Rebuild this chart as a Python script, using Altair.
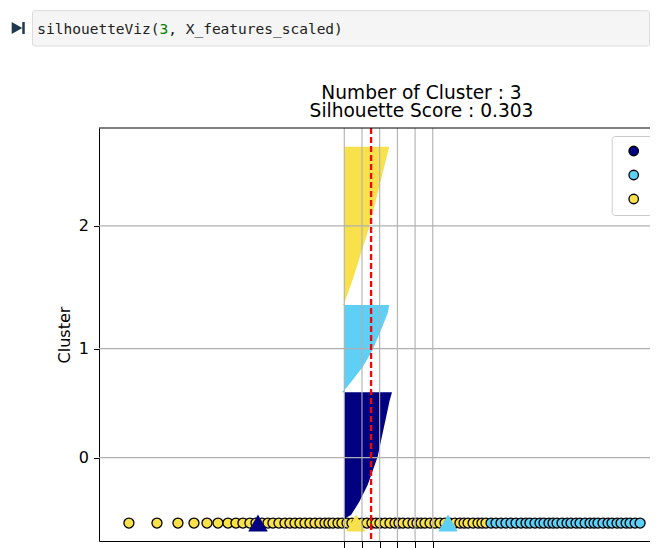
import altair as alt
import pandas as pd

# ---------------- data ----------------
cluster_names = ["0", "1", "2"]
cluster_colors = ["#000080", "#5ecff5", "#f9e14b"]

# silhouette profiles (sorted sample rank -> silhouette coefficient)
c0_idx = [0, 20, 54, 92, 245, 438, 764, 1000, 1207, 1400, 1507]
c0_val = [-0.04, 0.0, 0.01, 0.076, 0.17, 0.264, 0.377, 0.426, 0.47, 0.51, 0.539]
c1_idx = [1507, 1553, 1648, 1802, 1994, 2263, 2417, 2513]
c1_val = [-0.03, 0.02, 0.095, 0.21, 0.32, 0.43, 0.49, 0.508]
c2_idx = [2513, 2533, 2801, 3109, 3416, 3723, 4031, 4338]
c2_val = [-0.02, 0.0, 0.094, 0.189, 0.283, 0.358, 0.433, 0.508]

silhouette_avg = [0.303]
x_ticks = [0, 0.2, 0.4, 0.6, 0.8, 1.0]
y_ticks = [753.5, 2010, 3425.5]
y_tick_labels = ["0", "1", "2"]

# scatter of the scaled features (all drawn on the same axes)
yellow_x = [-2.433, -2.116, -1.879, -1.698, -1.551, -1.427, -1.314, -1.224, -1.145,
            -1.066, -0.998, -0.930, -0.862, -0.806, -0.738, -0.670, -0.614, -0.557,
            -0.501, -0.444, -0.388, -0.331, -0.275, -0.218, -0.173, -0.128, -0.071,
            -0.026, 0.031, 0.087, 0.144, 0.200, 0.257, 0.313, 0.358, 0.403, 0.460,
            0.516, 0.573, 0.618, 0.663, 0.720, 0.776, 0.822, 0.867, 0.912, 0.969,
            1.025, 1.081, 1.138, 1.194, 1.251, 1.307, 1.353, 1.398, 1.455, 1.511,
            1.556, 1.601]
blue_x = [1.658, 1.714, 1.771, 1.827, 1.884, 1.940, 1.997, 2.053, 2.098, 2.155,
          2.211, 2.256, 2.313, 2.358, 2.404, 2.460, 2.517, 2.562, 2.618, 2.664,
          2.721, 2.777, 2.822, 2.866, 2.923, 2.980, 3.025, 3.082, 3.127, 3.184,
          3.229, 3.285, 3.342]
scatter_y_value = 0.0

centroid_x = [-0.975, 1.172, 0.132]
centroid_cluster = ["0", "1", "2"]

title_lines = ["Number of Cluster : 3", "Silhouette Score : 0.303"]
code_parts = ["silhouetteViz(", "3", ", X_features_scaled)"]

# ---------------- tables ----------------
sil_df = pd.concat([
    pd.DataFrame({"idx": c0_idx, "val": c0_val, "cluster": "0"}),
    pd.DataFrame({"idx": c1_idx, "val": c1_val, "cluster": "1"}),
    pd.DataFrame({"idx": c2_idx, "val": c2_val, "cluster": "2"}),
], ignore_index=True)
sil_df["base"] = 0.0

pts_df = pd.concat([
    pd.DataFrame({"x": yellow_x, "cluster": "2"}),
    pd.DataFrame({"x": blue_x, "cluster": "1"}),
], ignore_index=True)
pts_df["y"] = scatter_y_value
pts_df["ord"] = range(len(pts_df))

cen_df = pd.DataFrame({"x": centroid_x, "cluster": centroid_cluster, "y": scatter_y_value})
xt_df = pd.DataFrame({"v": x_ticks})
yt_df = pd.DataFrame({"v": y_ticks})
avg_df = pd.DataFrame({"v": silhouette_avg})
one = pd.DataFrame({"k": [0]})

# ---------------- scales & axes ----------------
W, H = 551, 413
FONT = "DejaVu Sans"
xs = alt.Scale(domain=[-2.771, 3.454], nice=False, zero=False)
ys = alt.Scale(domain=[-207, 4553], nice=False, zero=False)
cscale = alt.Scale(domain=cluster_names, range=cluster_colors)

label_expr = "datum.value < %s ? '%s' : (datum.value < %s ? '%s' : '%s')" % (
    (y_ticks[0] + y_ticks[1]) / 2, y_tick_labels[0],
    (y_ticks[1] + y_ticks[2]) / 2, y_tick_labels[1], y_tick_labels[2])

xax = alt.Axis(values=x_ticks, labels=False, tickSize=7, tickColor="black", tickWidth=1,
               domainColor="black", domainWidth=1, grid=False, title=None)
yax = alt.Axis(values=y_ticks, labelExpr=label_expr, tickSize=5.5, tickColor="black",
               tickWidth=1, domainColor="black", domainWidth=1, grid=False,
               labelFont=FONT, labelFontSize=16, labelColor="black", labelPadding=5,
               title="Cluster", titleFont=FONT, titleFontSize=16, titleFontWeight="normal",
               titleColor="black", titlePadding=6)

legend = alt.Legend(orient="none", legendX=512.7, legendY=8, title=None,
                    symbolType="circle", symbolSize=90, symbolOffset=7,
                    symbolStrokeColor="black", symbolStrokeWidth=1.3, symbolOpacity=1,
                    labelExpr="'          '", labelColor="white",
                    labelFontSize=14, strokeColor="#cccccc",
                    fillColor="white", cornerRadius=3, padding=8, rowPadding=8)

X = lambda f: alt.X(f, type="quantitative", scale=xs, axis=xax)
Y = lambda f: alt.Y(f, type="quantitative", scale=ys, axis=yax)
C = alt.Color("cluster:N", scale=cscale, legend=legend)

areas = alt.Chart(sil_df).mark_area(orient="horizontal", opacity=1, strokeWidth=0).encode(
    x=alt.X("val:Q", scale=xs, axis=xax, stack=None),
    x2="base:Q",
    y=Y("idx"),
    color=C,
)

points = alt.Chart(pts_df).mark_circle(size=100, stroke="black", strokeWidth=1.3, opacity=1).encode(
    x=X("x"),
    y=Y("y"),
    color=C,
    order="ord:Q",
)

centroids = alt.Chart(cen_df).mark_point(shape="triangle-up", filled=True, size=380,
                                          opacity=1, strokeWidth=0).encode(
    x=X("x"),
    y=Y("y"),
    color=C,
)

vgrid = alt.Chart(xt_df).mark_rule(color="#b0b0b0", strokeWidth=1.1).encode(x=X("v"))
hgrid = alt.Chart(yt_df).mark_rule(color="#b0b0b0", strokeWidth=1.1).encode(y=Y("v"))

avg_line = alt.Chart(avg_df).mark_rule(color="red", strokeDash=[6, 3], strokeWidth=2.3).encode(x=X("v"))

top_spine = alt.Chart(one).mark_rule(color="black", strokeWidth=1).encode(
    x=alt.value(0), x2=alt.value(W), y=alt.value(0))

title1 = alt.Chart(one).mark_text(font=FONT, fontSize=18.6, color="black", align="center",
                                  baseline="alphabetic").encode(
    x=alt.value(322.5), y=alt.value(-29.5), text=alt.value(title_lines[0]))
title2 = alt.Chart(one).mark_text(font=FONT, fontSize=18.6, color="black", align="center",
                                  baseline="alphabetic").encode(
    x=alt.value(322.5), y=alt.value(-11), text=alt.value(title_lines[1]))

# notebook code cell above the figure
cell_box = alt.Chart(one).mark_rect(fill="#f5f5f5", stroke="#dcdcdc", strokeWidth=1,
                                    cornerRadius=2).encode(
    x=alt.value(-66.5), x2=alt.value(W - 0.5), y=alt.value(-117.3), y2=alt.value(-82))
mono = "DejaVu Sans Mono"
MFS = 14.5
CW = 0.602 * MFS
code1 = alt.Chart(one).mark_text(font=mono, fontSize=MFS, color="#212121", align="left",
                                 baseline="alphabetic").encode(
    x=alt.value(-61.7), y=alt.value(-94), text=alt.value(code_parts[0]))
code2 = alt.Chart(one).mark_text(font=mono, fontSize=MFS, color="#008000", align="left",
                                 baseline="alphabetic").encode(
    x=alt.value(-61.7 + 14 * CW), y=alt.value(-94), text=alt.value(code_parts[1]))
code3 = alt.Chart(one).mark_text(font=mono, fontSize=MFS, color="#212121", align="left",
                                 baseline="alphabetic").encode(
    x=alt.value(-61.7 + 15 * CW), y=alt.value(-94), text=alt.value(code_parts[2]))
run_tri = alt.Chart(one).mark_point(shape="triangle-right", filled=True, size=150,
                                    color="#1f3a4d", opacity=1).encode(
    x=alt.value(-82), y=alt.value(-100))
run_bar = alt.Chart(one).mark_rule(color="#1f3a4d", strokeWidth=2.5).encode(
    x=alt.value(-75.5), y=alt.value(-106), y2=alt.value(-94))

chart = alt.layer(
    areas, points, centroids, vgrid, hgrid, avg_line, top_spine,
    title1, title2, cell_box, code1, code2, code3, run_tri, run_bar,
).properties(
    width=W, height=H,
    padding={"left": 91, "top": 120, "right": 0, "bottom": 7},
    autosize=alt.AutoSizeParams(type="none"),
    background="white",
).configure_view(stroke=None).configure_axis(grid=False)

chart.save("out.html", embed_options={"renderer": "svg", "actions": False})
